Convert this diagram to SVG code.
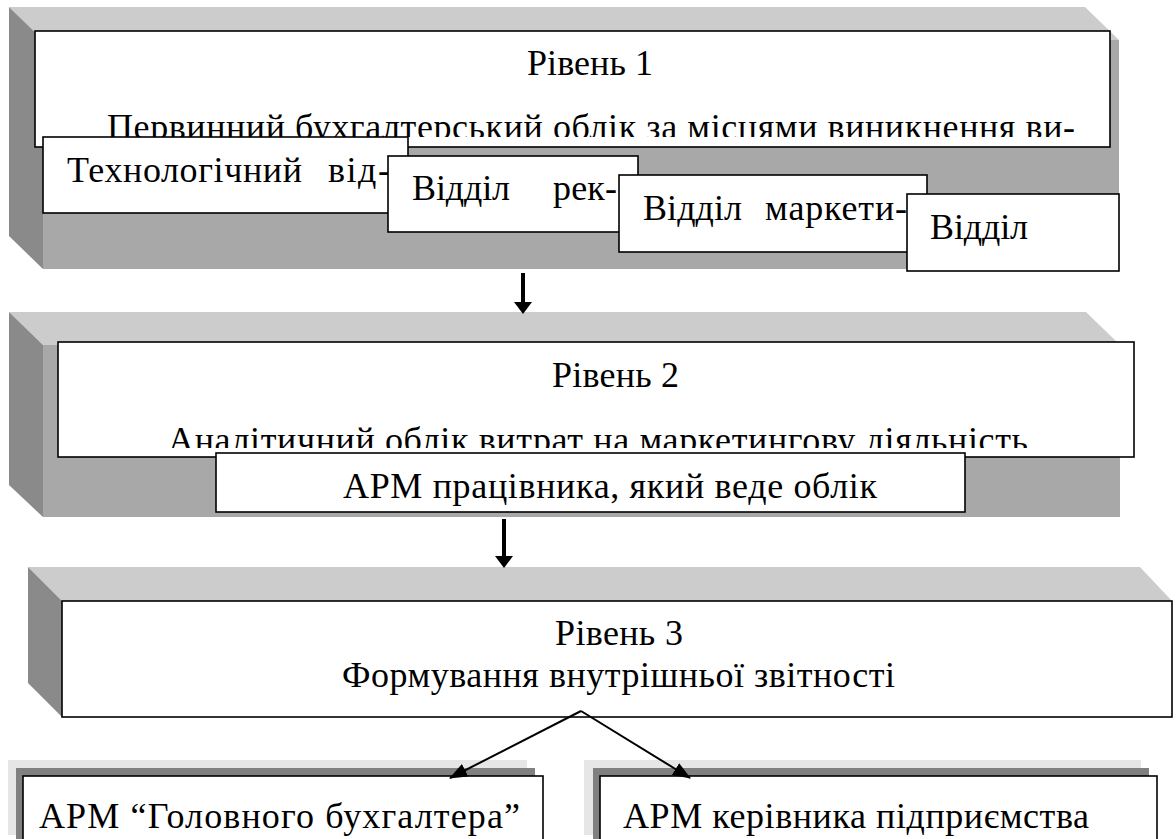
<svg xmlns="http://www.w3.org/2000/svg" width="1176" height="839" viewBox="0 0 1176 839">
<style>
.top{fill:#cccccc}
.side{fill:#8a8a8a}
.front{fill:#a8a8a8}
.box{fill:#fff;stroke:#000;stroke-width:1.6}
.sh1{fill:#e6e6e6}
.sh2{fill:#808080}
.thick{stroke:#000;stroke-width:4;fill:none}
.thin{stroke:#000;stroke-width:2;fill:none}
</style>
<defs>
<clipPath id="c1"><rect x="36" y="32" width="1073" height="105"/></clipPath>
<clipPath id="c2"><rect x="59" y="343" width="1074" height="105"/></clipPath>
<marker id="ah" markerUnits="userSpaceOnUse" markerWidth="18" markerHeight="14" viewBox="0 0 18 14" refX="17" refY="7" orient="auto">
<path d="M0,0 L18,7 L0,14 Z" fill="#000"/>
</marker>
</defs>
<g id="level1">
<rect class="front" x="43" y="40" width="1076" height="229"/>
<polygon class="top" points="9,7 1085,7 1119,40 43,40"/>
<polygon class="side" points="9,7 43,40 43,269 9,236"/>
<rect class="box" x="35" y="31" width="1075" height="116"/>
<text font-size="36" font-family="Liberation Serif, serif" x="527" y="75" textLength="126" lengthAdjust="spacing">Рівень 1</text>
<g clip-path="url(#c1)">
<text font-size="36" font-family="Liberation Serif, serif" x="107" y="139" textLength="968" lengthAdjust="spacing">Первинний бухгалтерський облік за місцями виникнення ви-</text>
</g>
</g>
<g id="dept-tech">
<rect class="box" x="43" y="137" width="365" height="76"/>
<text font-size="36" font-family="Liberation Serif, serif" x="67" y="182" textLength="235" lengthAdjust="spacing">Технологічний</text>
<text font-size="36" font-family="Liberation Serif, serif" x="328" y="182" textLength="62" lengthAdjust="spacing">від-</text>
</g>
<g id="dept-adv">
<rect class="box" x="388" y="156" width="250" height="76"/>
<text font-size="36" font-family="Liberation Serif, serif" x="412" y="200" textLength="98" lengthAdjust="spacing">Відділ</text>
<text font-size="36" font-family="Liberation Serif, serif" x="553" y="200" textLength="64" lengthAdjust="spacing">рек-</text>
</g>
<g id="dept-mkt">
<rect class="box" x="619" y="175" width="308" height="77"/>
<text font-size="36" font-family="Liberation Serif, serif" x="643" y="220" textLength="99" lengthAdjust="spacing">Відділ</text>
<text font-size="36" font-family="Liberation Serif, serif" x="765" y="220" textLength="142" lengthAdjust="spacing">маркети-</text>
</g>
<g id="dept-other">
<rect class="box" x="907" y="194" width="212" height="77"/>
<text font-size="36" font-family="Liberation Serif, serif" x="930" y="239" textLength="98" lengthAdjust="spacing">Відділ</text>
</g>
<g id="level2">
<rect class="front" x="43" y="345" width="1077" height="172"/>
<polygon class="top" points="9,312 1086,312 1120,345 43,345"/>
<polygon class="side" points="9,312 43,345 43,517 9,485"/>
<rect class="box" x="58" y="342" width="1076" height="115"/>
<text font-size="36" font-family="Liberation Serif, serif" x="552" y="387" textLength="127" lengthAdjust="spacing">Рівень 2</text>
<g clip-path="url(#c2)">
<text font-size="36" font-family="Liberation Serif, serif" x="168" y="452" textLength="860" lengthAdjust="spacing">Аналітичний облік витрат на маркетингову діяльність</text>
</g>
</g>
<g id="arm-worker">
<rect class="box" x="216" y="453" width="749" height="59"/>
<text font-size="36" font-family="Liberation Serif, serif" x="343" y="498" textLength="534" lengthAdjust="spacing">АРМ працівника, який веде облік</text>
</g>
<g id="level3">
<polygon class="top" points="28,567 1140,567 1172,601 62,601"/>
<polygon class="side" points="28,567 62,601 62,717 28,683"/>
<rect class="box" x="62" y="601" width="1110" height="116"/>
<text font-size="36" font-family="Liberation Serif, serif" x="555" y="645" textLength="128" lengthAdjust="spacing">Рівень 3</text>
<text font-size="36" font-family="Liberation Serif, serif" x="342" y="687" textLength="553" lengthAdjust="spacing">Формування внутрішньої звітності</text>
</g>
<g id="arm-chief-accountant">
<rect class="sh1" x="8" y="760" width="519" height="75"/>
<rect class="sh2" x="16" y="768" width="519" height="80"/>
<rect class="box" x="23" y="776" width="520" height="80"/>
<text font-size="36" font-family="Liberation Serif, serif" x="39" y="828" textLength="481" lengthAdjust="spacing">АРМ “Головного бухгалтера”</text>
</g>
<g id="arm-director">
<rect class="sh1" x="584" y="760" width="557" height="75"/>
<rect class="sh2" x="593" y="768" width="556" height="80"/>
<rect class="box" x="600" y="776" width="557" height="80"/>
<text font-size="36" font-family="Liberation Serif, serif" x="623" y="828" textLength="466" lengthAdjust="spacing">АРМ керівника підприємства</text>
</g>
<g id="connectors">
<line class="thick" x1="523" y1="273" x2="523" y2="304"/>
<polygon points="514,302 532,302 523,314" fill="#000"/>
<line class="thick" x1="504" y1="519" x2="504" y2="558"/>
<polygon points="495,556 513,556 504,568" fill="#000"/>
<line class="thin" x1="581" y1="711" x2="450" y2="778" marker-end="url(#ah)"/>
<line class="thin" x1="581" y1="711" x2="690" y2="778" marker-end="url(#ah)"/>
</g>
</svg>
